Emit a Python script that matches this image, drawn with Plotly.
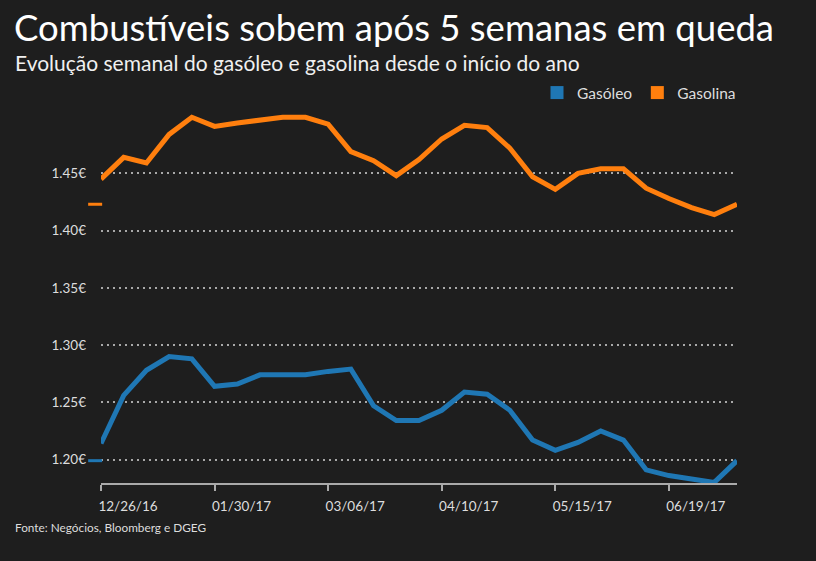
import pandas as pd
import plotly.graph_objects as go

dates = pd.date_range("2016-12-26", periods=29, freq="7D")
gasoleo = [1.214, 1.256, 1.278, 1.290, 1.288, 1.264, 1.266, 1.274, 1.274, 1.274,
           1.277, 1.279, 1.247, 1.234, 1.234, 1.243, 1.259, 1.257, 1.243, 1.217,
           1.208, 1.215, 1.225, 1.217, 1.191, 1.186, 1.183, 1.180, 1.199]
gasolina = [1.445, 1.464, 1.459, 1.484, 1.499, 1.491, 1.494, 1.496, 1.499, 1.499,
            1.493, 1.469, 1.461, 1.448, 1.462, 1.480, 1.492, 1.490, 1.472, 1.447,
            1.436, 1.450, 1.454, 1.454, 1.437, 1.428, 1.420, 1.414, 1.423]
series_names = ["Gasóleo", "Gasolina"]
colors = ["#1f77b4", "#ff7f0e"]
ytick_vals = [1.20, 1.25, 1.30, 1.35, 1.40, 1.45]
ytick_text = [f"{v:.2f}€" for v in ytick_vals]

W, H = 816, 561
L, R, T, B = 88, 79, 105, 78
PW, PH = W - L - R, H - T - B
X0 = 101  # pixel where the main x axis starts
FONT = "Lato"
BG = "#1e1e1e"


def px_x(p):
    return (p - L) / PW


def px_y(p):
    return (H - B - p) / PH


fig = go.Figure()
for name, vals, c in zip(series_names, [gasoleo, gasolina], colors):
    fig.add_trace(go.Scatter(x=dates, y=vals, mode="lines", name=name,
                             line=dict(color=c, width=5), showlegend=False,
                             hoverinfo="skip"))
    # last-value marker, placed left of the axis in a narrow side subplot
    fig.add_trace(go.Scatter(x=[0.55], y=[vals[-1]], xaxis="x2", yaxis="y2",
                             mode="markers", showlegend=False, cliponaxis=False,
                             marker=dict(symbol="line-ew", size=10,
                                         line=dict(color=c, width=3)),
                             hoverinfo="skip"))
    # legend entry with square swatch
    fig.add_trace(go.Scatter(x=[None], y=[None], mode="markers", name=name,
                             marker=dict(symbol="square", size=13, color=c)))

yrange = [1.1795, 1.5097]
fig.update_layout(
    width=W, height=H,
    margin=dict(l=L, r=R, t=T, b=B),
    paper_bgcolor=BG, plot_bgcolor=BG,
    font=dict(family=FONT, color="#dddddd"),
    showlegend=True,
    legend=dict(orientation="h", x=px_x(741), xanchor="right", y=px_y(93),
                yanchor="middle", font=dict(size=15.5, color="#dddddd"),
                bgcolor="rgba(0,0,0,0)", itemwidth=30, traceorder="normal"),
    xaxis=dict(domain=[px_x(X0), 1], range=[dates[0], dates[-1]],
               showgrid=False, zeroline=False,
               showline=True, linecolor="#aaaaaa", linewidth=2,
               ticks="outside", ticklen=6, tickwidth=1.5, tickcolor="#aaaaaa",
               tick0="2016-12-26", dtick=5 * 7 * 86400000, tickformat="%m/%d/%y",
               tickfont=dict(size=13.5, color="#dddddd"),
               ticklabelshift=27, ticklabelstandoff=4),
    yaxis=dict(range=yrange, tickvals=ytick_vals, ticktext=ytick_text,
               showgrid=True, gridcolor="#a8a8a8",
               griddash="2px,4px", gridwidth=1.6, zeroline=False, showline=False,
               tickfont=dict(size=13.5, color="#dddddd"), ticklabelstandoff=14),
    xaxis2=dict(domain=[0, px_x(X0)], range=[0, 1], anchor="y2", visible=False,
                showgrid=False, zeroline=False),
    yaxis2=dict(domain=[0, 1], range=yrange, anchor="x2", visible=False,
                showgrid=False, zeroline=False),
)

fig.add_annotation(text="Combustíveis sobem após 5 semanas em queda",
                   xref="paper", yref="paper", x=px_x(12), y=px_y(27),
                   xanchor="left", yanchor="middle", showarrow=False,
                   font=dict(size=36.5, color="#ffffff", family=FONT))
fig.add_annotation(text="Evolução semanal do gasóleo e gasolina desde o início do ano",
                   xref="paper", yref="paper", x=px_x(13), y=px_y(62),
                   xanchor="left", yanchor="middle", showarrow=False,
                   font=dict(size=21, color="#f0f0f0", family=FONT))
fig.add_annotation(text="Fonte: Negócios, Bloomberg e DGEG",
                   xref="paper", yref="paper", x=px_x(13), y=px_y(527),
                   xanchor="left", yanchor="middle", showarrow=False,
                   font=dict(size=11.8, color="#dddddd", family=FONT))

fig.write_html(
    "out.html",
    config={"displayModeBar": False},
    post_script="document.body.style.margin='0';"
                "document.body.style.background='#1e1e1e';"
                "document.body.style.overflow='hidden';",
)
